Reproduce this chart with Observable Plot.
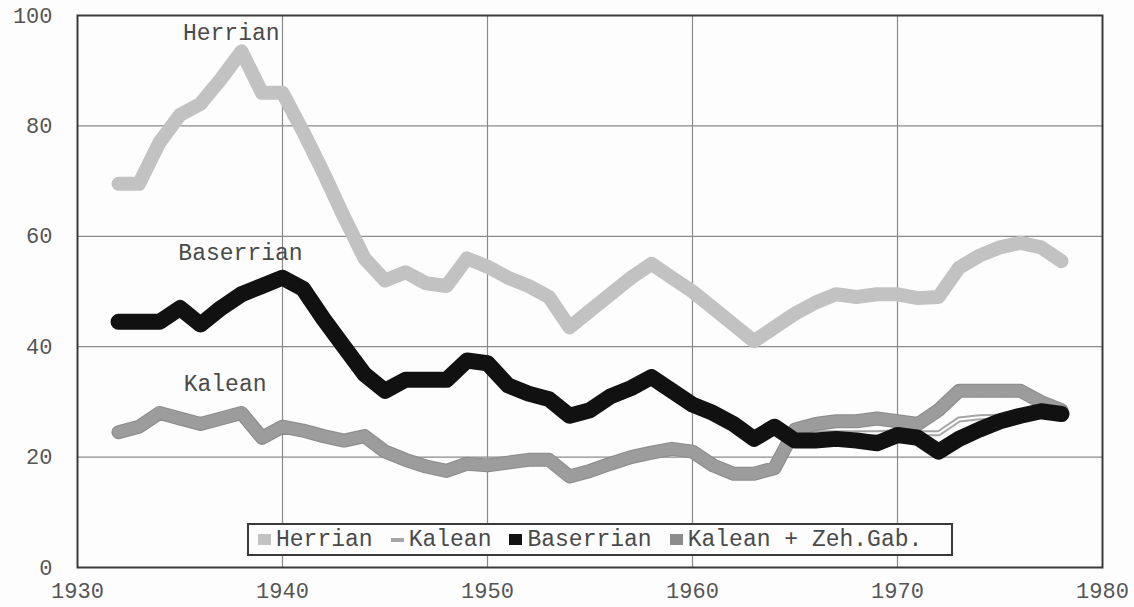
<!DOCTYPE html>
<html>
<head>
<meta charset="utf-8">
<script src="https://cdn.jsdelivr.net/npm/d3@7"></script>
<script src="https://cdn.jsdelivr.net/npm/@observablehq/plot@0.6"></script>
<style>
  html, body { margin: 0; padding: 0; background: #fdfdfd; }
  #wrap { position: relative; width: 1134px; height: 607px; }
  #legend {
    position: absolute; left: 247px; top: 523px; width: 693px; height: 29px;
    border: 2px solid #3a3a3a; background: #fdfdfd;
    display: flex; align-items: center; gap: 18px; padding-left: 9px; box-sizing: content-box;
    font-family: "Liberation Mono", "DejaVu Sans Mono", monospace; font-size: 23px; color: #4a4a4a;
  }
  #legend .item { display: flex; align-items: center; }
  #legend .sym { display: inline-block; width: 13px; height: 11px; margin-right: 5px; }
</style>
</head>
<body>
<div id="wrap"></div>
<script>
const years = [1932,1933,1934,1935,1936,1937,1938,1939,1940,1941,
               1942,1943,1944,1945,1946,1947,1948,1949,1950,1951,
               1952,1953,1954,1955,1956,1957,1958,1959,1960,1961,
               1962,1963,1964,1965,1966,1967,1968,1969,1970,1971,
               1972,1973,1974,1975,1976,1977,1978];

const herrian = [69.5,69.5,77,82,84,88.5,93.5,86,86,79,
                 71.5,63.5,56,52,53.5,51.5,51,56,54.5,52.5,
                 51,49,43.5,46.5,49.5,52.5,55,52.5,50,47,
                 44,41,43.5,46,48,49.5,49,49.5,49.5,48.8,
                 49,54.3,56.5,58,58.8,58,55.5];

const baserrian = [44.5,44.5,44.5,47,44,47,49.5,51,52.5,50.5,
                   45,40,35,32,34,34,34,37.5,37,33,
                   31.5,30.5,27.5,28.5,31,32.5,34.5,32,29.5,28,
                   26,23.3,25.5,23,23,23.3,23,22.5,24,23.5,
                   21,23.3,25,26.5,27.5,28.3,27.8];

const kalean = [24.5,25.5,28,27,26,27,28,23.5,25.5,24.8,
                23.8,23,23.8,21,19.5,18.3,17.5,18.8,18.5,19,
                19.5,19.5,16.5,17.5,18.8,20,20.8,21.5,21,18.5,
                17,17,18,23.5,24.3,24.3,24.3,24.3,24.5,24.3,
                24.3,26.8,27.2,27.3,28.2,29,28.5];

const kaleanZeh = [24.5,25.5,28,27,26,27,28,23.5,25.5,24.8,
                   23.8,23,23.8,21,19.5,18.3,17.5,18.8,18.5,19,
                   19.5,19.5,16.5,17.5,18.8,20,20.8,21.5,21,18.5,
                   17,17,18,25,26,26.5,26.5,27,26.5,26,
                   28.5,32,32,32,32,30,28.5];

const seriesNames = ["Herrian", "Kalean", "Baserrian", "Kalean + Zeh.Gab."];
const seriesColors = ["#c2c2c2", "#a6a6a6", "#111111", "#8c8c8c"];

const labels = [
  {text: "Herrian", x: 1937.5, y: 96.9},
  {text: "Baserrian", x: 1937.95, y: 57.1},
  {text: "Kalean", x: 1937.2, y: 33.3}
];

const xTicks = [1930, 1940, 1950, 1960, 1970, 1980];
const yTicks = [0, 20, 40, 60, 80, 100];

const rows = (vals) => years.map((yr, i) => ({year: yr, value: vals[i]}));
const H = rows(herrian), B = rows(baserrian), K = rows(kalean), KZ = rows(kaleanZeh);

const mono = "Liberation Mono, DejaVu Sans Mono, monospace";

const chart = Plot.plot({
  width: 1134,
  height: 607,
  marginLeft: 77,
  marginRight: 32,
  marginTop: 15,
  marginBottom: 40,
  style: {background: "#fdfdfd", fontFamily: mono, fontSize: "22px", color: "#555"},
  x: {domain: [1930, 1980], ticks: xTicks, tickFormat: "d", tickSize: 0, tickPadding: 15, label: null},
  y: {domain: [0, 100], ticks: yTicks, tickSize: 0, tickPadding: 25, label: null},
  marks: [
    Plot.gridX(xTicks.slice(1, -1), {stroke: "#8a8a8a", strokeOpacity: 1, strokeWidth: 1.2}),
    Plot.gridY(yTicks.slice(1, -1), {stroke: "#8a8a8a", strokeOpacity: 1, strokeWidth: 1.2}),
    Plot.line(H, {x: "year", y: "value", stroke: seriesColors[0], strokeWidth: 14, strokeLinejoin: "round", strokeLinecap: "round"}),
    Plot.line(K, {x: "year", y: "value", stroke: seriesColors[1], strokeWidth: 6, strokeLinejoin: "round", strokeLinecap: "round"}),
    Plot.line(K, {x: "year", y: "value", stroke: "#fdfdfd", strokeWidth: 2, strokeLinejoin: "round"}),
    Plot.line(KZ, {x: "year", y: "value", stroke: seriesColors[3], strokeWidth: 14, strokeLinejoin: "round", strokeLinecap: "round"}),
    Plot.line(KZ, {x: "year", y: "value", stroke: "#9c9c9c", strokeWidth: 12, strokeDasharray: "2,3", strokeLinejoin: "round"}),
    Plot.line(B, {x: "year", y: "value", stroke: seriesColors[2], strokeWidth: 16, strokeLinejoin: "round", strokeLinecap: "round"}),
    Plot.text(labels, {x: "x", y: "y", text: "text", fontSize: 23, fill: "#4a4a4a", fontFamily: mono, textAnchor: "middle", lineAnchor: "middle"}),
    Plot.frame({stroke: "#3a3a3a", strokeWidth: 2})
  ]
});

const wrap = document.getElementById("wrap");
wrap.appendChild(chart);

const legend = document.createElement("div");
legend.id = "legend";
seriesNames.forEach((name, i) => {
  const item = document.createElement("span");
  item.className = "item";
  const sym = document.createElement("span");
  sym.className = "sym";
  sym.style.background = seriesColors[i];
  if (name === "Kalean") sym.style.height = "4px";
  item.appendChild(sym);
  item.appendChild(document.createTextNode(name));
  legend.appendChild(item);
});
wrap.appendChild(legend);
</script>
</body>
</html>
